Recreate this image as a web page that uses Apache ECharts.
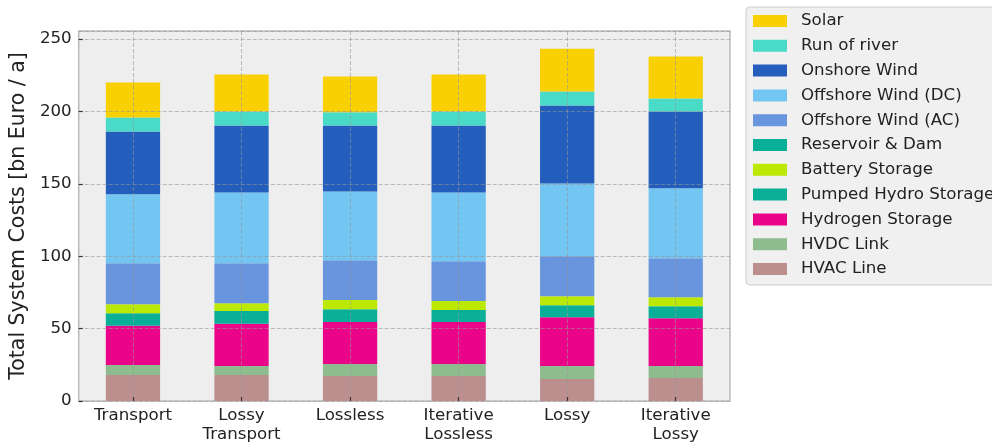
<!DOCTYPE html>
<html>
<head>
<meta charset="utf-8">
<script src="https://cdn.jsdelivr.net/npm/echarts@6/dist/echarts.min.js"></script>
<style>
  html, body { margin: 0; padding: 0; background: #ffffff; }
  #chart { width: 992px; height: 444px; }
</style>
</head>
<body>
<div id="chart"></div>
<script>
// Scenarios on the x axis
const categories = ['Transport', 'Lossy\nTransport', 'Lossless', 'Iterative\nLossless', 'Lossy', 'Iterative\nLossy'];

// Annual cost per technology [bn Euro / a], one value per scenario
const hvacLine        = [17.9, 17.9, 17.2, 17.2, 15.2, 15.9];
const hvdcLink        = [6.9, 6.2, 8.3, 8.3, 8.9, 8.2];
const hydrogenStorage = [27.2, 29.2, 29.0, 29.0, 33.8, 33.1];
const pumpedHydro     = [8.7, 8.8, 8.9, 8.3, 8.3, 8.3];
const batteryStorage  = [6.2, 5.5, 6.3, 6.2, 6.2, 6.2];
const reservoirDam    = [0, 0, 0, 0, 0, 0];
const offshoreAC      = [28.3, 27.6, 27.5, 27.6, 27.6, 26.9];
const offshoreDC      = [47.6, 48.9, 47.6, 47.5, 50.3, 48.3];
const onshoreWind     = [43.4, 46.2, 45.5, 46.2, 53.8, 53.1];
const runOfRiver      = [9.7, 9.7, 9.2, 9.7, 9.7, 9.0];
const solar           = [24.1, 25.5, 24.6, 25.5, 29.6, 28.9];

// Value axis: ticks every 50, upper limit leaves a small margin above the tallest bar
const yTickStep = 50;
const yMin = 0;
const yMax = 255.6;

// Stacked from bottom to top
const stackOrder = [
  { name: 'HVAC Line',            data: hvacLine,        color: '#bc8f8f' },
  { name: 'HVDC Link',            data: hvdcLink,        color: '#8fbc8f' },
  { name: 'Hydrogen Storage',     data: hydrogenStorage, color: '#ea048a' },
  { name: 'Pumped Hydro Storage', data: pumpedHydro,     color: '#0aaf98' },
  { name: 'Battery Storage',      data: batteryStorage,  color: '#bbe904' },
  { name: 'Reservoir & Dam',      data: reservoirDam,    color: '#0aaf98' },
  { name: 'Offshore Wind (AC)',   data: offshoreAC,      color: '#6895dd' },
  { name: 'Offshore Wind (DC)',   data: offshoreDC,      color: '#74c6f2' },
  { name: 'Onshore Wind',         data: onshoreWind,     color: '#235ebc' },
  { name: 'Run of river',         data: runOfRiver,      color: '#4adbc8' },
  { name: 'Solar',                data: solar,           color: '#f9d002' }
];

const FONT = '"DejaVu Sans", sans-serif';
const FS = 16.67;
const gridLine = { show: true, lineStyle: { color: 'rgba(150,150,150,0.6)', width: 1, type: [4, 2] } };

const chart = echarts.init(document.getElementById('chart'), null, { renderer: 'canvas' });

chart.setOption({
  animation: false,
  backgroundColor: '#ffffff',
  textStyle: { fontFamily: FONT },
  grid: {
    left: 77, right: 262, top: 31, bottom: 43,
    show: true, backgroundColor: '#eeeeee', borderColor: '#bcbcbc', borderWidth: 1.5
  },
  legend: {
    data: stackOrder.map(s => s.name).reverse(),
    orient: 'vertical',
    left: 746, top: 7,
    padding: [4, 12, 6, 7],
    itemWidth: 34, itemHeight: 12, itemGap: 4.8,
    icon: 'rect',
    backgroundColor: '#f0f0f0',
    borderColor: '#cccccc', borderWidth: 1, borderRadius: 4,
    textStyle: { fontFamily: FONT, fontSize: FS, color: '#222222', lineHeight: 20, padding: [0, 0, 0, 9] }
  },
  xAxis: {
    type: 'category',
    data: categories,
    z: 3,
    axisLine: { show: false },
    axisTick: { show: true, inside: true, length: 4, alignWithLabel: true, lineStyle: { color: '#333333', width: 1.2 } },
    axisLabel: { fontFamily: FONT, fontSize: FS, color: '#222222', margin: 5, lineHeight: 19, interval: 0 },
    splitLine: Object.assign({ alignWithLabel: true, interval: 0 }, gridLine)
  },
  yAxis: {
    type: 'value',
    min: yMin, max: yMax, interval: yTickStep,
    z: 3,
    name: 'Total System Costs [bn Euro / a]',
    nameLocation: 'middle', nameGap: 40,
    nameTextStyle: { fontFamily: FONT, fontSize: 20.5, color: '#222222' },
    axisLine: { show: false },
    axisTick: { show: true, inside: true, length: 4, lineStyle: { color: '#333333', width: 1.2 } },
    axisLabel: { fontFamily: FONT, fontSize: FS, color: '#222222', margin: 7, showMaxLabel: false },
    splitLine: gridLine
  },
  series: stackOrder.map(s => ({
    name: s.name,
    type: 'bar',
    stack: 'total',
    barWidth: '50%',
    data: s.data,
    itemStyle: { color: s.color },
    emphasis: { disabled: true }
  }))
});
</script>
</body>
</html>
